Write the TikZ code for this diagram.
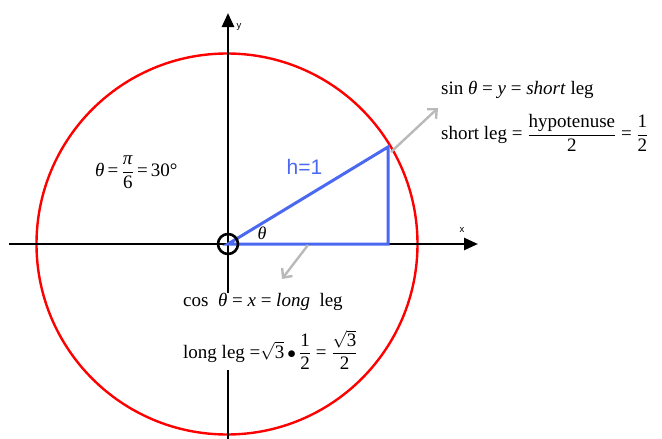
\documentclass[tikz,border=0pt]{standalone}
\usepackage{amsmath}
\usepackage{fontspec}
\setmainfont{Liberation Serif}
\newfontfamily\labfont{Liberation Sans}
\usetikzlibrary{arrows.meta}
\definecolor{triblue}{RGB}{75,105,240}
\definecolor{arrgray}{RGB}{185,185,185}
\newcommand\tx[1]{\mbox{#1}}
\tikzset{
  axis/.style={line width=2.6pt,-{Triangle[length=14pt,width=12pt]}},
  axisplain/.style={line width=2.6pt},
  unitcircle/.style={draw=red,line width=2.4pt},
  tri/.style={draw=triblue,line width=3pt,line join=miter},
  pointer/.style={draw=arrgray,line width=2.4pt,-{Straight Barb[length=7pt,width=13pt,line width=2.4pt]}},
  eq/.style={anchor=west,inner sep=0pt,font=\fontsize{19}{22}\selectfont},
  axlabel/.style={inner sep=0pt,font=\labfont\fontsize{9.5}{10}\selectfont},
}
\begin{document}
\begin{tikzpicture}[x=1pt,y=-1pt]
\useasboundingbox (0,0) rectangle (662,439);
\coordinate (O) at (228,244);
\coordinate (C) at (227,244);
\coordinate (A) at (388,244);
\coordinate (B) at (388,147);
\coordinate (xl) at (9,244);
\coordinate (xr) at (478,244);
\coordinate (yb) at (228,439);
\coordinate (yt) at (228,13);
% circle
\draw[unitcircle] (C) circle[radius=190.5];
% equations
\node[eq] (sin) at (441,90) {sin \textit{θ} = \textit{y} = \textit{short} leg};
\node[eq] (short) at (441,133) {short leg = $\dfrac{\tx{hypotenuse}}{\tx{2}}$ = $\dfrac{\tx{1}}{\tx{2}}$};
\node[eq] (cos) at (183,302) {cos\ \ \textit{θ} = \textit{x} = \textit{long}\ \ leg};
\node[eq] (long) at (183,350) {long leg =$\sqrt{\tx{3}}$\,$\bullet$\,$\dfrac{\tx{1}}{\tx{2}}$ = $\dfrac{\sqrt{\tx{3}}}{\tx{2}}$};
\node[eq] (ang) at (95,172) {\textit{θ}\,=\,$\dfrac{\tx{\textit{π}}}{\tx{6}}$\,=\,30°};
% axes
\draw[axis] (xl) -- (xr);
\draw[axisplain] (yb) -- (yb |- long.south);
\draw[axis] (yb |- cos.north) -- (yt);
\node[axlabel] (xlab) at (462,230) {x};
\node[axlabel] (ylab) at (239,27) {y};
% triangle
\draw[tri] (O) -- (B) -- (A) -- cycle;
\node[draw=black,line width=2.6pt,circle,minimum size=20pt,inner sep=0pt] (orig) at (O) {};
\node[inner sep=0pt,text=triblue,font=\labfont\fontsize{21}{24}\selectfont] (h) at (304.5,167) {h=1};
\node[inner sep=0pt,font=\fontsize{18}{20}\selectfont\itshape] (th) at (262,233) {θ};
% pointers
\coordinate (p1s) at (391,152);
\coordinate (p1e) at (438,108);
\coordinate (p2s) at (308,245);
\coordinate (p2e) at (282,279);
\draw[pointer] (p1s) -- (p1e);
\draw[pointer] (p2s) -- (p2e);
\end{tikzpicture}
\end{document}
